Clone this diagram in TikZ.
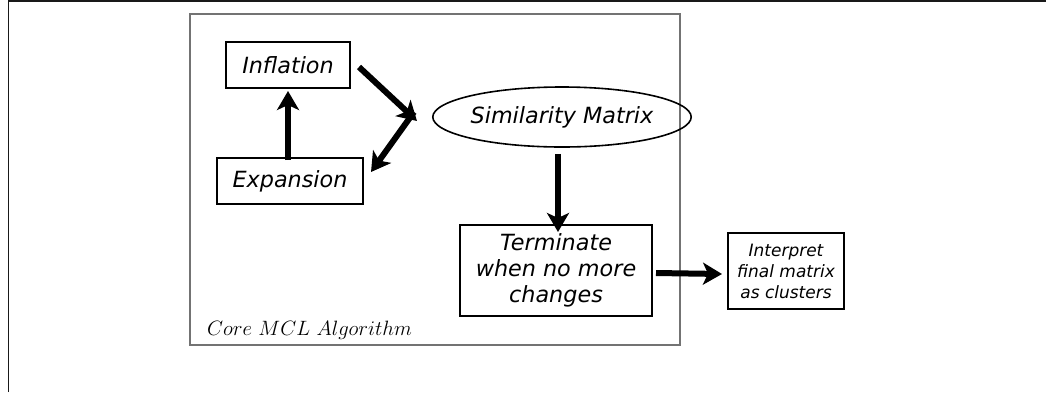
\documentclass[tikz,border=0pt]{standalone}
\usepackage{fontspec}
\setsansfont{DejaVu Sans}
\usetikzlibrary{shapes.geometric,arrows.meta}
\tikzset{
  boxnode/.style={draw, line width=2pt, rectangle, inner sep=0pt, align=center,
    font=\sffamily\itshape\fontsize{22.3}{26}\selectfont},
  smallbox/.style={draw, line width=2pt, rectangle, inner sep=0pt, align=center,
    font=\sffamily\itshape\fontsize{17}{21}\selectfont},
  ellnode/.style={draw, line width=1.6pt, ellipse, inner sep=0pt,
    font=\sffamily\itshape\fontsize{22.3}{26}\selectfont},
  bigarrow/.style={line width=6pt, -{Stealth[length=19pt,width=22pt,inset=5pt]}}
}
\begin{document}
\begin{tikzpicture}[x=1pt,y=-1pt]
\useasboundingbox (0,0) rectangle (1046,392);
\fill[white] (0,0) rectangle (1046,392);
% outer frame (top and left only)
\draw[line width=1.6pt, black!90] (8.5,392) -- (8.5,0.8) -- (1046,0.8);
% inner container
\node[draw=black!55, line width=1.2pt, minimum width=490pt, minimum height=331pt, inner sep=0pt] (core) at (435,179.5) {};
\node[anchor=base west, inner sep=0pt, font=\fontsize{21.3}{25}\selectfont] (lbl) at (207,335) {$Core\ MCL\ Algorithm$};
% nodes
\node[boxnode, minimum width=124pt, minimum height=46pt] (infl) at (288,65) {Inflation};
\node[boxnode, minimum width=146pt, minimum height=46pt] (exp) at (290,181) {Expansion};
\node[ellnode, minimum width=208pt, minimum height=60pt] (sim) at (562,117) {Similarity Matrix};
\node[boxnode, minimum width=192pt, minimum height=91pt] (term) at (556,270.5) {Terminate\\when no more\\changes};
\node[smallbox, minimum width=116pt, minimum height=76pt] (interp) at (786,271) {Interpret\\final matrix\\as clusters};
% connectors
\draw[bigarrow] ([xshift=8pt,yshift=-2pt]infl.east) -- ([xshift=-15pt,yshift=-4pt]sim.west);
\draw[bigarrow] ([xshift=-18pt,yshift=5pt]sim.west) -- ([xshift=7pt,yshift=9pt]exp.east);
\draw[bigarrow] ([xshift=-2pt,yshift=-3pt]exp.north) -- ([yshift=-2pt]infl.south);
\draw[bigarrow] ([xshift=-4pt,yshift=-6pt]sim.south) -- ([xshift=2pt,yshift=-8pt]term.north);
\draw[bigarrow] ([xshift=3pt,yshift=-2.5pt]term.east) -- ([xshift=-5pt,yshift=-3pt]interp.west);
\end{tikzpicture}
\end{document}
